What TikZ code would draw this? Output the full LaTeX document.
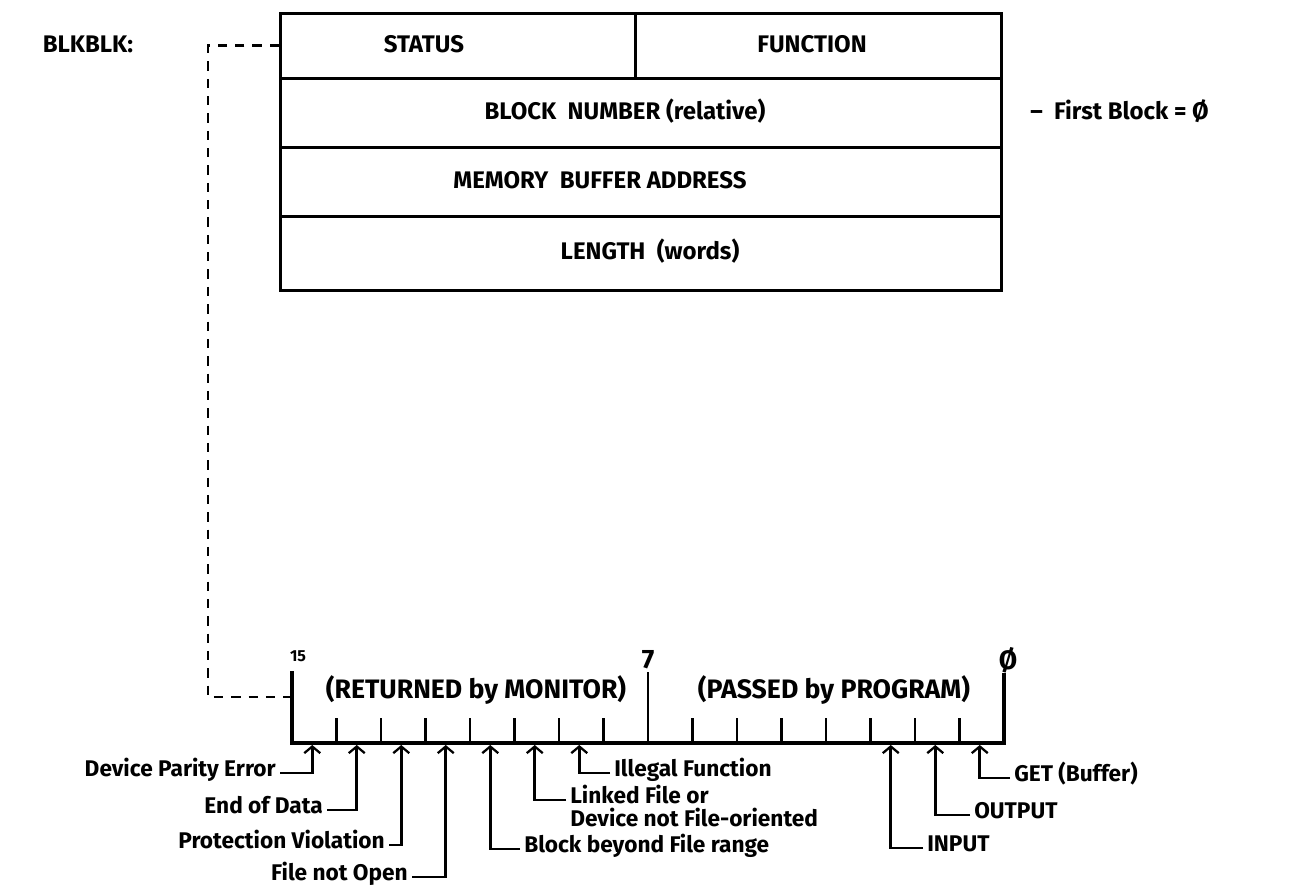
\documentclass[tikz,border=0pt]{standalone}
\usepackage{fontspec}
\setmainfont{Fira Sans}
\usetikzlibrary{arrows.meta}
\begin{document}
\begin{tikzpicture}[x=0.75pt,y=-0.75pt,
  cell/.style={draw,line width=2pt,anchor=north west,inner sep=0pt,minimum height=#1},
  boxtext/.style={font=\fontsize{18}{21}\selectfont\bfseries,inner sep=0pt},
  lab/.style={font=\fontsize{17}{19}\selectfont\bfseries,inner xsep=3pt,inner ysep=0pt,text height=0.7em,text depth=0.2em},
  regtext/.style={font=\fontsize{20}{22}\selectfont\bfseries,inner sep=0pt},
  reg/.style={line width=2.6pt,line cap=rect},
  tick/.style={line width=2.2pt},
  dashline/.style={line width=2.1pt,dash pattern=on 7pt off 6pt},
  arr/.style={line width=2pt,-{Straight Barb[length=5pt,width=12pt,line width=1.7pt]}}]
\useasboundingbox (0,0) rectangle (1293,895);
% record block
\node[cell=48.75pt,minimum width=266.25pt] (status) at (279,12) {};
\node[cell=48.75pt,minimum width=274.5pt] (function) at (634,12) {};
\node[cell=51.75pt,minimum width=540.75pt] (rowblk) at (279,77) {};
\node[cell=51.75pt,minimum width=540.75pt] (rowmem) at (279,146) {};
\node[cell=55.5pt,minimum width=540.75pt] (rowlen) at (279,215) {};
\node[boxtext] (tstatus) at (424,44) {STATUS};
\node[boxtext] (tfunction) at (812,44) {FUNCTION};
\node[boxtext] (tblk) at (625,111) {BLOCK\ \ NUMBER (relative)};
\node[boxtext] (tmem) at (600,180) {MEMORY\ \ BUFFER ADDRESS};
\node[boxtext] (tlen) at (650,251) {LENGTH\ \ (words)};
\node[boxtext] (blkblk) at (88,44) {BLKBLK:};
\node[boxtext,anchor=west] (first) at (1030,111) {–\ \ First Block = Ø};
% register
\coordinate (regTL) at (292,673);
\coordinate (regBL) at (292,743);
\coordinate (regBR) at (1004,743);
\coordinate (regTR) at (1004,675);
\coordinate (regL) at (292,697);
\draw[reg] (regTL) -- (regBL) -- (regBR) -- (regTR);
\foreach \k in {1,...,15}{
  \ifnum\k=8
    \draw[tick] (292+44.5*\k,672) -- (292+44.5*\k,743);
  \else
    \draw[tick] (292+44.5*\k,718) -- (292+44.5*\k,743);
  \fi
}
\node[font=\fontsize{12}{13}\selectfont\bfseries,inner sep=0pt] (b15) at (298,656) {15};
\node[regtext] (b7) at (648,660) {7};
\node[regtext] (b0) at (1008,660) {Ø};
\node[regtext] (returned) at (476,690) {(RETURNED by MONITOR)};
\node[regtext] (passed) at (834,690) {(PASSED by PROGRAM)};
% dashed link
\coordinate (dL) at (208,697);
\draw[dashline] (status.west) -| (dL) -- (regL);
% arrow tips (cell centres on the baseline)
\foreach \k in {0,...,15}{ \coordinate (t\k) at (292+44.5*\k+22.25-2,745); }
% labels left
\node[lab,anchor=east] (dpe) at (280,773) {Device Parity Error};
\node[lab,anchor=east] (eod) at (327,810) {End of Data};
\node[lab,anchor=east] (pv) at (389,845) {Protection Violation};
\node[lab,anchor=east] (fno) at (412,877) {File not Open};
\draw[arr] (dpe.east) -| (t0);
\draw[arr] (eod.east) -| (t1);
\draw[arr] (pv.east) -| (t2);
\draw[arr] (fno.east) -| (t3);
% labels right
\node[lab,anchor=west] (bbf) at (520,849) {Block beyond File range};
\node[lab,anchor=west] (lf) at (566,800) {Linked File or};
\node[lab,anchor=west] (dnf) at (566,823) {Device not File-oriented};
\node[lab,anchor=west] (ilf) at (610,773) {Illegal Function};
\draw[arr] (bbf.west) -| (t4);
\draw[arr] (lf.west) -| (t5);
\draw[arr] (ilf.west) -| (t6);
\node[lab,anchor=west] (inp) at (923,848) {INPUT};
\node[lab,anchor=west] (out) at (970,815) {OUTPUT};
\node[lab,anchor=west] (get) at (1010,778) {GET (Buffer)};
\draw[arr] (inp.west) -| (t13);
\draw[arr] (out.west) -| (t14);
\draw[arr] (get.west) -| (t15);
\end{tikzpicture}
\end{document}
